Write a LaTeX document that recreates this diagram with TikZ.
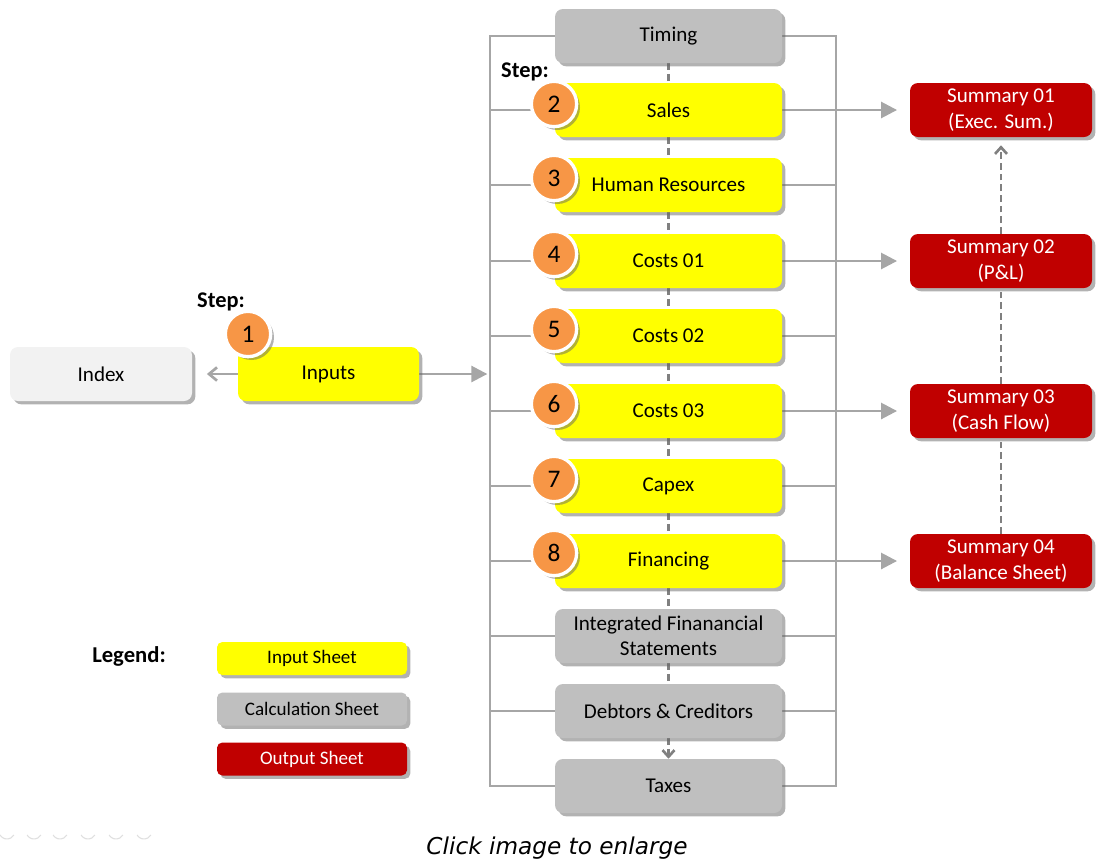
\documentclass[tikz,border=0pt]{standalone}
\usepackage{fontspec}
\setmainfont{Carlito}
\newfontfamily\capfont{DejaVu Sans}
\usetikzlibrary{shadows,arrows.meta}
\definecolor{inyellow}{HTML}{FFFF00}
\definecolor{calcgray}{HTML}{BFBFBF}
\definecolor{outred}{HTML}{C00000}
\definecolor{idxgray}{HTML}{F2F2F2}
\definecolor{stepor}{HTML}{F79646}
\definecolor{linegray}{HTML}{A6A6A6}
\definecolor{dashgray}{HTML}{808080}
\pgfdeclarelayer{background}
\pgfsetlayers{background,main}
\begin{document}
\begin{tikzpicture}[x=0.75pt,y=-0.75pt,
  shade/.style={drop shadow={shadow xshift=2.5pt,shadow yshift=-2.5pt,opacity=0.5,fill=black!60}},
  sheet/.style={shade,rounded corners=6pt,minimum width=170.25pt,minimum height=40.5pt,inner sep=0pt,align=center,font=\fontsize{15.8}{19}\selectfont},
  insheet/.style={sheet,fill=inyellow},
  calcsheet/.style={sheet,fill=calcgray},
  outsheet/.style={sheet,fill=outred,text=white,minimum width=136.5pt},
  idxsheet/.style={sheet,fill=idxgray,minimum width=136.5pt},
  legbox/.style={shade,rounded corners=4pt,minimum width=142.5pt,minimum height=24.75pt,inner sep=0pt,font=\fontsize{14.3}{16}\selectfont},
  badge/.style={shade,circle,fill=stepor,draw=white,line width=2.5pt,minimum size=34pt,inner sep=0pt,font=\fontsize{19}{19}\selectfont},
  steplabel/.style={font=\bfseries\fontsize{16.8}{18}\selectfont,inner sep=0pt},
  rail/.style={draw=linegray,line width=2pt},
  flow/.style={rail,-{Triangle[length=12pt,width=12pt]}},
  backflow/.style={rail,-{Straight Barb[length=6pt,width=10pt,line width=2pt]}},
  dashline/.style={draw=dashgray,line width=2pt,dash pattern=on 5pt off 3pt},
  dasharrow/.style={dashline,-{Straight Barb[length=5pt,width=9pt,line width=2pt]}},
]
\useasboundingbox (0,0) rectangle (1100,861);

% main column
\node[calcsheet] (Timing) at (668.5,36) {Timing};
\node[insheet] (Sales) at (668.5,110) {Sales};
\node[insheet] (HR) at (668.5,185) {Human Resources};
\node[insheet] (CostsA) at (668.5,261) {Costs 01};
\node[insheet] (CostsB) at (668.5,336) {Costs 02};
\node[insheet] (CostsC) at (668.5,411) {Costs 03};
\node[insheet] (Capex) at (668.5,486) {Capex};
\node[insheet] (Fin) at (668.5,561) {Financing};
\node[calcsheet] (IFS) at (668.5,636) {Integrated Finanancial\\Statements};
\node[calcsheet] (Debt) at (668.5,711) {Debtors \& Creditors};
\node[calcsheet] (Taxes) at (668.5,786) {Taxes};

% left
\node[idxsheet] (Index) at (101,374) {Index};
\node[insheet,minimum width=135.75pt] (Inputs) at (328.5,374) {Inputs};

% summaries
\node[outsheet] (SumA) at (1001,110) {Summary 01\\(Exec. Sum.)};
\node[outsheet] (SumB) at (1001,261) {Summary 02\\(P\&L)};
\node[outsheet] (SumC) at (1001,411) {Summary 03\\(Cash Flow)};
\node[outsheet] (SumD) at (1001,561) {Summary 04\\(Balance Sheet)};

% badges
\node[badge] (b1) at (248,334) {1};
\node[badge] (b2) at (554,104) {2};
\node[badge] (b3) at (554,178) {3};
\node[badge] (b4) at (554,254) {4};
\node[badge] (b5) at (554,329) {5};
\node[badge] (b6) at (554,404) {6};
\node[badge] (b7) at (554,479) {7};
\node[badge] (b8) at (554,553) {8};
\node[steplabel] (stepA) at (221,302) {Step:};
\node[steplabel] (stepB) at (525,72) {Step:};

% legend
\node[font=\bfseries\fontsize{17}{18}\selectfont,inner sep=0pt] (leg) at (129,656) {Legend:};
\node[legbox,fill=inyellow] (lgIn) at (312,658.5) {Input Sheet};
\node[legbox,fill=calcgray] (lgCalc) at (312,709) {Calculation Sheet};
\node[legbox,fill=outred,text=white] (lgOut) at (312,759) {Output Sheet};

% caption
\node[font=\capfont\itshape\fontsize{17.4}{19}\selectfont,inner sep=0pt] (cap) at (557,848) {Click image to enlarge};

\coordinate (railL) at (490,0);
\coordinate (railR) at (836,0);

\begin{pgfonlayer}{background}
  % rails
  \draw[rail] (Timing.west) -- (Timing.west -| railL) -- (Taxes.west -| railL) -- (Taxes.west);
  \draw[rail] (Timing.east) -- (Timing.east -| railR) -- (Taxes.east -| railR) -- (Taxes.east);
  \foreach \n in {Sales,HR,CostsA,CostsB,CostsC,Capex,Fin,IFS,Debt}{
    \draw[rail] (\n.west) -- (\n.west -| railL);
    \draw[rail] (\n.east) -- (\n.east -| railR);
  }
  % dashed chain
  \foreach \a/\b in {Timing/Sales,Sales/HR,HR/CostsA,CostsA/CostsB,CostsB/CostsC,CostsC/Capex,Capex/Fin,Fin/IFS,IFS/Debt}{
    \draw[dashline] (\a.south) -- (\b.north);
  }
  \draw[dasharrow] (Debt.south) -- (Taxes.north);
  % outputs
  \draw[flow,shorten >=9.5pt] (Sales.east) -- (SumA.west);
  \draw[flow,shorten >=9.5pt] (CostsA.east) -- (SumB.west);
  \draw[flow,shorten >=9.5pt] (CostsC.east) -- (SumC.west);
  \draw[flow,shorten >=9.5pt] (Fin.east) -- (SumD.west);
  \draw[dashline] (SumD.north) -- (SumC.south);
  \draw[dashline] (SumC.north) -- (SumB.south);
  \draw[dasharrow,shorten >=6pt] (SumB.north) -- (SumA.south);
  % inputs
  \draw[backflow,shorten >=11pt] (Inputs.west) -- (Index.east);
  \draw[flow,shorten >=2pt] (Inputs.east) -- (Inputs.east -| railL);
\end{pgfonlayer}

% faint carousel marks
\foreach \cx in {7,34,60,88,116,144}{
  \draw[gray!25,line width=0.8pt] (\cx,831) ++(150:8) arc[start angle=150,end angle=30,radius=8];
}
\end{tikzpicture}
\end{document}
